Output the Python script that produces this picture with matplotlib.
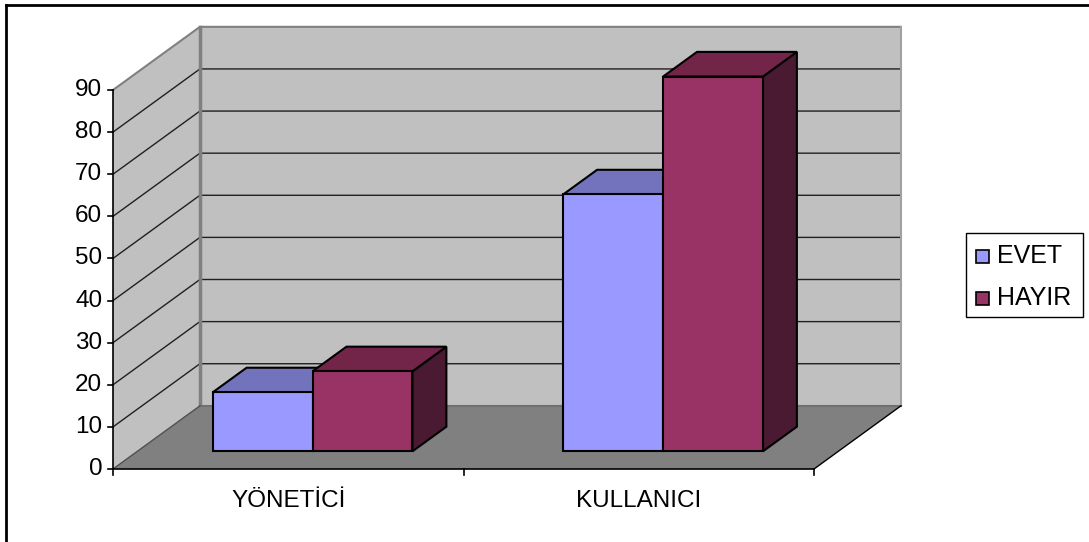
import numpy as np
import matplotlib.pyplot as plt
from matplotlib.patches import Polygon, Rectangle

plt.rcParams['font.family'] = ['Liberation Sans', 'DejaVu Sans']

categories = ['YÖNETİCİ', 'KULLANICI']
series = ['EVET', 'HAYIR']
evet = [14, 61]
hayir = [19, 89]
yticks = [0, 10, 20, 30, 40, 50, 60, 70, 80, 90]

front_cols = ['#9999ff', '#993366']
top_cols = ['#7373bd', '#722549']
side_cols = ['#4d4d80', '#4a1a32']

# oblique depth vector (data units) and bar depth band
dx, dy = 0.248, 15.0
f0, f1 = 0.28, 0.67
bw = 0.285
ymax = 90

W, H = 1089, 542
fig = plt.figure(figsize=(W / 100, H / 100), dpi=100)
ax = fig.add_axes([113 / W, (H - 469) / H, (814 - 113) / W, (469 - 90) / H])
ax.set_xlim(0, 2)
ax.set_ylim(0, ymax)
ax.axis('off')

ncat = len(categories)

def poly(pts, fc, ec, lw, z):
    ax.add_patch(Polygon(pts, closed=True, facecolor=fc, edgecolor=ec,
                         linewidth=lw, clip_on=False, zorder=z, joinstyle='miter'))

# walls and floor
poly([(0, 0), (dx, dy), (dx, dy + ymax), (0, ymax)], '#c0c0c0', 'none', 0, 1)
poly([(dx, dy), (ncat + dx, dy), (ncat + dx, dy + ymax), (dx, dy + ymax)], '#c0c0c0', 'none', 0, 1)
poly([(0, 0), (ncat, 0), (ncat + dx, dy), (dx, dy)], '#808080', 'none', 0, 1)

for v in yticks[1:-1]:
    ax.plot([0, dx, ncat + dx], [v, v + dy, v + dy], color='#202020', lw=1, zorder=2, clip_on=False)
ax.plot([0, dx, ncat + dx], [ymax, ymax + dy, ymax + dy], color='#808080', lw=1.5, zorder=2, clip_on=False)
ax.plot([dx, dx], [dy, dy + ymax], color='#808080', lw=2.5, zorder=2, clip_on=False)
ax.plot([ncat + dx, ncat + dx], [dy, dy + ymax], color='#a0a0a0', lw=1.5, zorder=2, clip_on=False)
ax.plot([dx, ncat + dx], [dy, dy], color='#707070', lw=1.5, zorder=2, clip_on=False)
ax.plot([0, dx], [0, dy], color='#505050', lw=1, zorder=2, clip_on=False)
ax.plot([ncat, ncat + dx], [0, dy], color='black', lw=1, zorder=2, clip_on=False)

# axes lines and ticks
ax.plot([0, 0], [0, ymax], color='black', lw=1.2, zorder=3, clip_on=False)
ax.plot([0, ncat], [0, 0], color='black', lw=1.2, zorder=3, clip_on=False)
for v in yticks:
    ax.plot([-0.015, 0], [v, v], color='black', lw=1.2, zorder=3, clip_on=False)
    ax.text(-0.031, v, str(v), ha='right', va='center', fontsize=17.5, clip_on=False)
for i in range(ncat + 1):
    ax.plot([i, i], [0, -1.5], color='black', lw=1.2, zorder=3, clip_on=False)
for i, c in enumerate(categories):
    ax.text(i + 0.5, -7.5, c, ha='center', va='center', fontsize=17.5)

# bars
ox, oy = f0 * dx, f0 * dy
bx, by = (f1 - f0) * dx, (f1 - f0) * dy
for i in range(ncat):
    for s, vals in enumerate([evet, hayir]):
        x0 = i + 0.5 - bw + s * bw + ox
        x1 = x0 + bw
        y0 = oy
        y1 = oy + vals[i]
        z = 5 + i * 3 + s
        poly([(x1, y0), (x1 + bx, y0 + by), (x1 + bx, y1 + by), (x1, y1)], side_cols[s], 'black', 1.5, z)
        poly([(x0, y1), (x0 + bx, y1 + by), (x1 + bx, y1 + by), (x1, y1)], top_cols[s], 'black', 1.5, z)
        poly([(x0, y0), (x1, y0), (x1, y1), (x0, y1)], front_cols[s], 'black', 1.5, z)

# legend, drawn in figure pixels
px = fig.transFigure.inverted()
def fp(x, y):
    return (x / W, 1 - y / H)

fig.add_artist(Rectangle(fp(966, 317), 117 / W, 84 / H, facecolor='white', edgecolor='black',
                         lw=1, transform=fig.transFigure))
for s, name in enumerate(series):
    yc = 256 + s * 42
    fig.add_artist(Rectangle(fp(976, yc + 6.5), 13 / W, 13 / H, facecolor=front_cols[s],
                             edgecolor='black', lw=1.2, transform=fig.transFigure))
    fig.text(*fp(997, yc), name, ha='left', va='center', fontsize=18)

# outer chart border
fig.add_artist(plt.Line2D([6 / W, 6 / W], [0, 1 - 5 / H], color='black', lw=2, transform=fig.transFigure))
fig.add_artist(plt.Line2D([6 / W, 1], [1 - 5 / H, 1 - 5 / H], color='black', lw=2, transform=fig.transFigure))

fig.savefig('out.png', dpi=100)
